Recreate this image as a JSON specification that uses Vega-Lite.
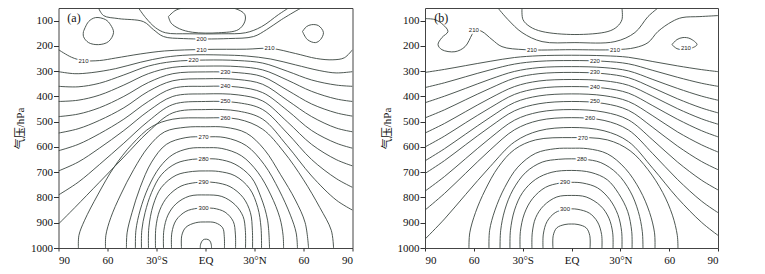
{
"$schema":"https://vega.github.io/schema/vega-lite/v6.json",
"padding":{"left":13.5,"top":7,"right":5,"bottom":5},
"spacing":26.5,
"config":{"view":{"stroke":"#444","strokeWidth":1},
"axis":{"grid":false,"domain":false,"labelOverlap":false,"labelFont":"Liberation Serif","labelFontSize":11,"labelColor":"#111","tickColor":"#333","titleFont":"Liberation Serif, Noto Sans CJK SC","titleFontSize":11,"titleFontWeight":"normal","titleColor":"#111"}},
"datasets":{
"a":[
{"c":"lp","x":-22.7,"y":84},{"c":"lp","x":-18,"y":58},{"c":"lp","x":-10,"y":47},{"c":"lp","x":5,"y":45},{"c":"lp","x":18,"y":52},{"c":"lp","x":24,"y":75},{"c":"lp","x":24,"y":105},{"c":"lp","x":20,"y":136},{"c":"lp","x":8,"y":148},{"c":"lp","x":-8,"y":146},{"c":"lp","x":-16,"y":132},{"c":"lp","x":-21,"y":110},{"c":"lp","x":-22.7,"y":84},
{"c":"B","x":-41,"y":50},{"c":"B","x":-36.7,"y":88},{"c":"B","x":-30.6,"y":128},{"c":"B","x":-24.5,"y":148},{"c":"B","x":-10,"y":152},{"c":"B","x":10,"y":152},{"c":"B","x":24.5,"y":148},{"c":"B","x":34.3,"y":124},{"c":"B","x":44.7,"y":76},{"c":"B","x":50.8,"y":50},
{"c":"C","x":-65.5,"y":50},{"c":"C","x":-62.4,"y":80},{"c":"C","x":-53.3,"y":92},{"c":"C","x":-38,"y":104},{"c":"C","x":-31.8,"y":136},{"c":"C","x":-25.7,"y":163},{"c":"C","x":-13.5,"y":171},{"c":"C","x":14,"y":171},{"c":"C","x":29.4,"y":163},{"c":"C","x":37.3,"y":136},{"c":"C","x":46.5,"y":96},{"c":"C","x":56.9,"y":56},{"c":"C","x":58.8,"y":50},
{"c":"LL","x":-74.7,"y":143},{"c":"LL","x":-71.6,"y":104},{"c":"LL","x":-67.3,"y":88},{"c":"LL","x":-61.2,"y":96},{"c":"LL","x":-58.2,"y":116},{"c":"LL","x":-56.3,"y":147},{"c":"LL","x":-59.4,"y":183},{"c":"LL","x":-65.5,"y":195},{"c":"LL","x":-71.6,"y":187},{"c":"LL","x":-74.7,"y":163},{"c":"LL","x":-74.7,"y":143},
{"c":"LR","x":59.4,"y":143},{"c":"LR","x":61.8,"y":124},{"c":"LR","x":64.9,"y":116},{"c":"LR","x":69.2,"y":120},{"c":"LR","x":72.2,"y":147},{"c":"LR","x":70.4,"y":175},{"c":"LR","x":67.3,"y":187},{"c":"LR","x":62.4,"y":175},{"c":"LR","x":59.4,"y":143},
{"c":"k0","x":-90,"y":215},{"c":"k0","x":-82,"y":245},{"c":"k0","x":-75,"y":258},{"c":"k0","x":-65,"y":258},{"c":"k0","x":-55,"y":248},{"c":"k0","x":-40,"y":232},{"c":"k0","x":-25,"y":220},{"c":"k0","x":0,"y":214},{"c":"k0","x":25,"y":213},{"c":"k0","x":40,"y":210},{"c":"k0","x":55,"y":230},{"c":"k0","x":68,"y":250},{"c":"k0","x":78,"y":255},{"c":"k0","x":85,"y":247},{"c":"k0","x":90,"y":215},
{"c":"k1","x":-90,"y":302},{"c":"k1","x":-80,"y":310},{"c":"k1","x":-70,"y":306},{"c":"k1","x":-55,"y":290},{"c":"k1","x":-40,"y":265},{"c":"k1","x":-25,"y":245},{"c":"k1","x":-10,"y":236},{"c":"k1","x":10,"y":236},{"c":"k1","x":25,"y":240},{"c":"k1","x":40,"y":252},{"c":"k1","x":55,"y":275},{"c":"k1","x":70,"y":298},{"c":"k1","x":80,"y":307},{"c":"k1","x":90,"y":302},
{"c":"k2","x":-90,"y":360},{"c":"k2","x":-78,"y":362},{"c":"k2","x":-65,"y":348},{"c":"k2","x":-50,"y":315},{"c":"k2","x":-35,"y":280},{"c":"k2","x":-20,"y":262},{"c":"k2","x":0,"y":256},{"c":"k2","x":20,"y":258},{"c":"k2","x":35,"y":268},{"c":"k2","x":50,"y":300},{"c":"k2","x":65,"y":335},{"c":"k2","x":80,"y":355},{"c":"k2","x":90,"y":360},
{"c":"k3","x":-90,"y":420},{"c":"k3","x":-78,"y":415},{"c":"k3","x":-65,"y":395},{"c":"k3","x":-50,"y":355},{"c":"k3","x":-35,"y":310},{"c":"k3","x":-20,"y":285},{"c":"k3","x":0,"y":280},{"c":"k3","x":20,"y":282},{"c":"k3","x":35,"y":295},{"c":"k3","x":50,"y":335},{"c":"k3","x":65,"y":380},{"c":"k3","x":80,"y":410},{"c":"k3","x":90,"y":420},
{"c":"k4","x":-90,"y":480},{"c":"k4","x":-78,"y":470},{"c":"k4","x":-65,"y":445},{"c":"k4","x":-50,"y":400},{"c":"k4","x":-35,"y":345},{"c":"k4","x":-20,"y":310},{"c":"k4","x":0,"y":303},{"c":"k4","x":20,"y":306},{"c":"k4","x":35,"y":322},{"c":"k4","x":50,"y":375},{"c":"k4","x":65,"y":430},{"c":"k4","x":80,"y":465},{"c":"k4","x":90,"y":478},
{"c":"k5","x":-90,"y":545},{"c":"k5","x":-78,"y":528},{"c":"k5","x":-65,"y":495},{"c":"k5","x":-50,"y":445},{"c":"k5","x":-35,"y":380},{"c":"k5","x":-20,"y":338},{"c":"k5","x":0,"y":330},{"c":"k5","x":20,"y":333},{"c":"k5","x":35,"y":352},{"c":"k5","x":50,"y":415},{"c":"k5","x":65,"y":480},{"c":"k5","x":80,"y":525},{"c":"k5","x":90,"y":540},
{"c":"k6","x":-90,"y":615},{"c":"k6","x":-78,"y":590},{"c":"k6","x":-65,"y":548},{"c":"k6","x":-50,"y":490},{"c":"k6","x":-35,"y":420},{"c":"k6","x":-20,"y":368},{"c":"k6","x":0,"y":360},{"c":"k6","x":20,"y":363},{"c":"k6","x":35,"y":385},{"c":"k6","x":50,"y":455},{"c":"k6","x":65,"y":535},{"c":"k6","x":80,"y":585},{"c":"k6","x":90,"y":605},
{"c":"k7","x":-90,"y":695},{"c":"k7","x":-78,"y":660},{"c":"k7","x":-65,"y":605},{"c":"k7","x":-50,"y":535},{"c":"k7","x":-35,"y":458},{"c":"k7","x":-20,"y":400},{"c":"k7","x":0,"y":390},{"c":"k7","x":20,"y":394},{"c":"k7","x":35,"y":418},{"c":"k7","x":50,"y":500},{"c":"k7","x":65,"y":590},{"c":"k7","x":80,"y":650},{"c":"k7","x":90,"y":675},
{"c":"k8","x":-90,"y":790},{"c":"k8","x":-78,"y":740},{"c":"k8","x":-65,"y":670},{"c":"k8","x":-50,"y":585},{"c":"k8","x":-35,"y":498},{"c":"k8","x":-20,"y":432},{"c":"k8","x":0,"y":420},{"c":"k8","x":20,"y":425},{"c":"k8","x":35,"y":452},{"c":"k8","x":50,"y":545},{"c":"k8","x":65,"y":650},{"c":"k8","x":80,"y":725},{"c":"k8","x":90,"y":760},
{"c":"k9","x":-90,"y":905},{"c":"k9","x":-80,"y":840},{"c":"k9","x":-65,"y":740},{"c":"k9","x":-50,"y":640},{"c":"k9","x":-35,"y":540},{"c":"k9","x":-20,"y":465},{"c":"k9","x":0,"y":452},{"c":"k9","x":20,"y":458},{"c":"k9","x":35,"y":490},{"c":"k9","x":50,"y":595},{"c":"k9","x":65,"y":715},{"c":"k9","x":80,"y":810},{"c":"k9","x":90,"y":850},
{"c":"j0","x":-77.8,"y":1000},{"c":"j0","x":-77.5,"y":950},{"c":"j0","x":-74,"y":890},{"c":"j0","x":-66,"y":790},{"c":"j0","x":-56,"y":680},{"c":"j0","x":-45,"y":590},{"c":"j0","x":-33,"y":520},{"c":"j0","x":-20,"y":490},{"c":"j0","x":0,"y":485},{"c":"j0","x":20,"y":490},{"c":"j0","x":35,"y":530},{"c":"j0","x":48,"y":620},{"c":"j0","x":60,"y":730},{"c":"j0","x":70,"y":840},{"c":"j0","x":77,"y":930},{"c":"j0","x":78.4,"y":1000},
{"c":"j1","x":-61.2,"y":1000},{"c":"j1","x":-61,"y":950},{"c":"j1","x":-58,"y":880},{"c":"j1","x":-52,"y":790},{"c":"j1","x":-44,"y":690},{"c":"j1","x":-35,"y":600},{"c":"j1","x":-25,"y":540},{"c":"j1","x":-12,"y":522},{"c":"j1","x":0,"y":520},{"c":"j1","x":12,"y":522},{"c":"j1","x":25,"y":545},{"c":"j1","x":36,"y":610},{"c":"j1","x":46,"y":710},{"c":"j1","x":55,"y":810},{"c":"j1","x":61,"y":900},{"c":"j1","x":63.1,"y":1000},
{"c":"j2","x":-48.4,"y":1000},{"c":"j2","x":-48,"y":940},{"c":"j2","x":-45,"y":860},{"c":"j2","x":-40,"y":760},{"c":"j2","x":-33,"y":660},{"c":"j2","x":-24,"y":590},{"c":"j2","x":-12,"y":563},{"c":"j2","x":0,"y":560},{"c":"j2","x":12,"y":563},{"c":"j2","x":25,"y":595},{"c":"j2","x":36,"y":670},{"c":"j2","x":45,"y":770},{"c":"j2","x":52,"y":870},{"c":"j2","x":55.5,"y":940},{"c":"j2","x":56.3,"y":1000},
{"c":"j3","x":-42.9,"y":1000},{"c":"j3","x":-42.6,"y":930},{"c":"j3","x":-40,"y":850},{"c":"j3","x":-35,"y":760},{"c":"j3","x":-28,"y":680},{"c":"j3","x":-20,"y":630},{"c":"j3","x":-10,"y":606},{"c":"j3","x":0,"y":603},{"c":"j3","x":10,"y":606},{"c":"j3","x":22,"y":635},{"c":"j3","x":32,"y":700},{"c":"j3","x":40,"y":790},{"c":"j3","x":45.5,"y":880},{"c":"j3","x":47.5,"y":950},{"c":"j3","x":47.8,"y":1000},
{"c":"j4","x":-39.2,"y":1000},{"c":"j4","x":-39,"y":930},{"c":"j4","x":-37,"y":860},{"c":"j4","x":-33,"y":780},{"c":"j4","x":-27,"y":710},{"c":"j4","x":-18,"y":665},{"c":"j4","x":-8,"y":649},{"c":"j4","x":0,"y":647},{"c":"j4","x":8,"y":649},{"c":"j4","x":18,"y":668},{"c":"j4","x":28,"y":720},{"c":"j4","x":34,"y":800},{"c":"j4","x":38,"y":890},{"c":"j4","x":39.2,"y":1000},
{"c":"j5","x":-34.9,"y":1000},{"c":"j5","x":-34.7,"y":920},{"c":"j5","x":-32,"y":830},{"c":"j5","x":-27,"y":760},{"c":"j5","x":-18,"y":712},{"c":"j5","x":-8,"y":697},{"c":"j5","x":0,"y":695},{"c":"j5","x":8,"y":697},{"c":"j5","x":18,"y":714},{"c":"j5","x":27,"y":765},{"c":"j5","x":32,"y":840},{"c":"j5","x":34,"y":920},{"c":"j5","x":34.3,"y":1000},
{"c":"j6","x":-30.6,"y":1000},{"c":"j6","x":-30.4,"y":920},{"c":"j6","x":-28,"y":850},{"c":"j6","x":-23,"y":795},{"c":"j6","x":-15,"y":755},{"c":"j6","x":-6,"y":741},{"c":"j6","x":0,"y":739},{"c":"j6","x":6,"y":741},{"c":"j6","x":15,"y":757},{"c":"j6","x":23,"y":800},{"c":"j6","x":27.5,"y":860},{"c":"j6","x":28.7,"y":930},{"c":"j6","x":28.8,"y":1000},
{"c":"j7","x":-25.7,"y":1000},{"c":"j7","x":-25.5,"y":930},{"c":"j7","x":-23,"y":870},{"c":"j7","x":-18,"y":825},{"c":"j7","x":-10,"y":795},{"c":"j7","x":0,"y":790},{"c":"j7","x":10,"y":796},{"c":"j7","x":18,"y":828},{"c":"j7","x":23,"y":875},{"c":"j7","x":24.4,"y":930},{"c":"j7","x":24.5,"y":1000},
{"c":"j8","x":-20.8,"y":1000},{"c":"j8","x":-20.6,"y":940},{"c":"j8","x":-18,"y":890},{"c":"j8","x":-12,"y":855},{"c":"j8","x":-5,"y":843},{"c":"j8","x":0,"y":842},{"c":"j8","x":5,"y":843},{"c":"j8","x":12,"y":858},{"c":"j8","x":17,"y":895},{"c":"j8","x":18.3,"y":945},{"c":"j8","x":18.4,"y":1000},
{"c":"j9","x":-14.7,"y":1000},{"c":"j9","x":-14.5,"y":950},{"c":"j9","x":-12,"y":918},{"c":"j9","x":-6,"y":900},{"c":"j9","x":0,"y":897},{"c":"j9","x":6,"y":900},{"c":"j9","x":10.5,"y":920},{"c":"j9","x":11.5,"y":955},{"c":"j9","x":11.6,"y":1000},
{"c":"bl","x":-3.2,"y":1000},{"c":"bl","x":-3,"y":985},{"c":"bl","x":-1.5,"y":968},{"c":"bl","x":0.5,"y":965},{"c":"bl","x":2.5,"y":970},{"c":"bl","x":3.5,"y":985},{"c":"bl","x":3.7,"y":1000}
],
"la":[
{"x":-2.4,"y":171,"t":"200"},{"x":-2.4,"y":215,"t":"210"},{"x":39.2,"y":209,"t":"210"},{"x":-74.7,"y":258,"t":"210"},{"x":-7.3,"y":256,"t":"220"},{"x":12.2,"y":303,"t":"230"},{"x":12.2,"y":360,"t":"240"},{"x":12.2,"y":420,"t":"250"},{"x":12.2,"y":485,"t":"260"},{"x":-1.2,"y":560,"t":"270"},{"x":-1.2,"y":647,"t":"280"},{"x":-1.2,"y":739,"t":"290"},{"x":-1.2,"y":842,"t":"300"}
],
"b":[
{"c":"U1","x":-30.4,"y":50},{"c":"U1","x":-29.8,"y":96},{"c":"U1","x":-25.5,"y":124},{"c":"U1","x":-18.1,"y":143},{"c":"U1","x":2.1,"y":155},{"c":"U1","x":22.4,"y":143},{"c":"U1","x":28,"y":124},{"c":"U1","x":31,"y":96},{"c":"U1","x":31,"y":50},
{"c":"U2","x":-45.2,"y":50},{"c":"U2","x":-39,"y":96},{"c":"U2","x":-30.4,"y":147},{"c":"U2","x":-18.1,"y":183},{"c":"U2","x":2.1,"y":187},{"c":"U2","x":26.7,"y":183},{"c":"U2","x":39,"y":147},{"c":"U2","x":47,"y":84},{"c":"U2","x":53.1,"y":50},
{"c":"k0","x":-90,"y":92},{"c":"k0","x":-83.9,"y":96},{"c":"k0","x":-78.9,"y":116},{"c":"k0","x":-75.9,"y":143},{"c":"k0","x":-79.6,"y":167},{"c":"k0","x":-82,"y":195},{"c":"k0","x":-79.6,"y":215},{"c":"k0","x":-71.6,"y":223},{"c":"k0","x":-65.4,"y":203},{"c":"k0","x":-61.1,"y":155},{"c":"k0","x":-59.3,"y":136},{"c":"k0","x":-55,"y":143},{"c":"k0","x":-48.8,"y":175},{"c":"k0","x":-42.7,"y":203},{"c":"k0","x":-28.6,"y":215},{"c":"k0","x":0,"y":215},{"c":"k0","x":26.7,"y":215},{"c":"k0","x":39,"y":207},{"c":"k0","x":47,"y":187},{"c":"k0","x":53.1,"y":143},{"c":"k0","x":61.7,"y":104},{"c":"k0","x":67.9,"y":88},{"c":"k0","x":78.9,"y":84},{"c":"k0","x":90,"y":80},
{"c":"LR","x":61.7,"y":195},{"c":"LR","x":64.8,"y":175},{"c":"LR","x":68.5,"y":167},{"c":"LR","x":72.8,"y":171},{"c":"LR","x":77.1,"y":195},{"c":"LR","x":72.8,"y":211},{"c":"LR","x":68.5,"y":215},{"c":"LR","x":64.8,"y":211},{"c":"LR","x":61.7,"y":195},
{"c":"k1","x":-90,"y":305},{"c":"k1","x":-78,"y":293},{"c":"k1","x":-65,"y":278},{"c":"k1","x":-50,"y":261},{"c":"k1","x":-35,"y":246},{"c":"k1","x":-20,"y":239},{"c":"k1","x":0,"y":237},{"c":"k1","x":20,"y":239},{"c":"k1","x":35,"y":245},{"c":"k1","x":50,"y":262},{"c":"k1","x":65,"y":279},{"c":"k1","x":80,"y":294},{"c":"k1","x":90,"y":302},
{"c":"k2","x":-90,"y":365},{"c":"k2","x":-78,"y":346},{"c":"k2","x":-65,"y":322},{"c":"k2","x":-50,"y":295},{"c":"k2","x":-35,"y":272},{"c":"k2","x":-20,"y":261},{"c":"k2","x":0,"y":258},{"c":"k2","x":20,"y":261},{"c":"k2","x":35,"y":271},{"c":"k2","x":50,"y":297},{"c":"k2","x":65,"y":324},{"c":"k2","x":80,"y":348},{"c":"k2","x":90,"y":360},
{"c":"k3","x":-90,"y":425},{"c":"k3","x":-78,"y":399},{"c":"k3","x":-65,"y":368},{"c":"k3","x":-50,"y":332},{"c":"k3","x":-35,"y":301},{"c":"k3","x":-20,"y":286},{"c":"k3","x":0,"y":282},{"c":"k3","x":20,"y":286},{"c":"k3","x":35,"y":299},{"c":"k3","x":50,"y":333},{"c":"k3","x":65,"y":368},{"c":"k3","x":80,"y":399},{"c":"k3","x":90,"y":415},
{"c":"k4","x":-90,"y":485},{"c":"k4","x":-78,"y":453},{"c":"k4","x":-65,"y":413},{"c":"k4","x":-50,"y":368},{"c":"k4","x":-35,"y":328},{"c":"k4","x":-20,"y":310},{"c":"k4","x":0,"y":305},{"c":"k4","x":20,"y":310},{"c":"k4","x":35,"y":326},{"c":"k4","x":50,"y":366},{"c":"k4","x":65,"y":409},{"c":"k4","x":80,"y":446},{"c":"k4","x":90,"y":465},
{"c":"k5","x":-90,"y":545},{"c":"k5","x":-78,"y":507},{"c":"k5","x":-65,"y":460},{"c":"k5","x":-50,"y":407},{"c":"k5","x":-35,"y":361},{"c":"k5","x":-20,"y":339},{"c":"k5","x":0,"y":333},{"c":"k5","x":20,"y":338},{"c":"k5","x":35,"y":356},{"c":"k5","x":50,"y":400},{"c":"k5","x":65,"y":448},{"c":"k5","x":80,"y":489},{"c":"k5","x":90,"y":510},
{"c":"k6","x":-90,"y":600},{"c":"k6","x":-78,"y":557},{"c":"k6","x":-65,"y":504},{"c":"k6","x":-50,"y":445},{"c":"k6","x":-35,"y":392},{"c":"k6","x":-20,"y":368},{"c":"k6","x":0,"y":361},{"c":"k6","x":20,"y":367},{"c":"k6","x":35,"y":387},{"c":"k6","x":50,"y":437},{"c":"k6","x":65,"y":490},{"c":"k6","x":80,"y":536},{"c":"k6","x":90,"y":560},
{"c":"k7","x":-90,"y":655},{"c":"k7","x":-78,"y":607},{"c":"k7","x":-65,"y":549},{"c":"k7","x":-50,"y":483},{"c":"k7","x":-35,"y":424},{"c":"k7","x":-20,"y":398},{"c":"k7","x":0,"y":390},{"c":"k7","x":20,"y":397},{"c":"k7","x":35,"y":420},{"c":"k7","x":50,"y":477},{"c":"k7","x":65,"y":540},{"c":"k7","x":80,"y":592},{"c":"k7","x":90,"y":620},
{"c":"k8","x":-90,"y":705},{"c":"k8","x":-78,"y":654},{"c":"k8","x":-65,"y":591},{"c":"k8","x":-50,"y":520},{"c":"k8","x":-35,"y":457},{"c":"k8","x":-20,"y":429},{"c":"k8","x":0,"y":420},{"c":"k8","x":20,"y":428},{"c":"k8","x":35,"y":455},{"c":"k8","x":50,"y":523},{"c":"k8","x":65,"y":596},{"c":"k8","x":80,"y":658},{"c":"k8","x":90,"y":690},
{"c":"k9","x":-90,"y":775},{"c":"k9","x":-78,"y":717},{"c":"k9","x":-65,"y":646},{"c":"k9","x":-50,"y":565},{"c":"k9","x":-35,"y":494},{"c":"k9","x":-20,"y":462},{"c":"k9","x":0,"y":452},{"c":"k9","x":20,"y":462},{"c":"k9","x":35,"y":493},{"c":"k9","x":50,"y":573},{"c":"k9","x":65,"y":659},{"c":"k9","x":80,"y":732},{"c":"k9","x":90,"y":770},
{"c":"k10","x":-90,"y":850},{"c":"k10","x":-78,"y":784},{"c":"k10","x":-65,"y":704},{"c":"k10","x":-50,"y":612},{"c":"k10","x":-35,"y":532},{"c":"k10","x":-20,"y":495},{"c":"k10","x":0,"y":484},{"c":"k10","x":20,"y":495},{"c":"k10","x":35,"y":533},{"c":"k10","x":50,"y":627},{"c":"k10","x":65,"y":728},{"c":"k10","x":80,"y":815},{"c":"k10","x":90,"y":860},
{"c":"k11","x":-90,"y":965},{"c":"k11","x":-78,"y":885},{"c":"k11","x":-65,"y":788},{"c":"k11","x":-50,"y":678},{"c":"k11","x":-35,"y":580},{"c":"k11","x":-20,"y":536},{"c":"k11","x":0,"y":523},{"c":"k11","x":20,"y":536},{"c":"k11","x":35,"y":579},{"c":"k11","x":50,"y":685},{"c":"k11","x":65,"y":801},{"c":"k11","x":80,"y":899},{"c":"k11","x":90,"y":950},
{"c":"j0","x":-63,"y":1000},{"c":"j0","x":-62.5,"y":940},{"c":"j0","x":-59,"y":860},{"c":"j0","x":-53,"y":770},{"c":"j0","x":-45,"y":680},{"c":"j0","x":-35,"y":610},{"c":"j0","x":-22,"y":572},{"c":"j0","x":0,"y":563},{"c":"j0","x":22,"y":572},{"c":"j0","x":36,"y":615},{"c":"j0","x":47,"y":690},{"c":"j0","x":56,"y":780},{"c":"j0","x":62,"y":870},{"c":"j0","x":65,"y":950},{"c":"j0","x":65.4,"y":1000},
{"c":"j1","x":-50.7,"y":1000},{"c":"j1","x":-50.3,"y":930},{"c":"j1","x":-47,"y":850},{"c":"j1","x":-41,"y":760},{"c":"j1","x":-33,"y":680},{"c":"j1","x":-22,"y":625},{"c":"j1","x":-10,"y":607},{"c":"j1","x":0,"y":605},{"c":"j1","x":10,"y":607},{"c":"j1","x":22,"y":627},{"c":"j1","x":33,"y":685},{"c":"j1","x":42,"y":770},{"c":"j1","x":48,"y":860},{"c":"j1","x":51,"y":940},{"c":"j1","x":51.3,"y":1000},
{"c":"j2","x":-43.9,"y":1000},{"c":"j2","x":-43.5,"y":930},{"c":"j2","x":-41,"y":850},{"c":"j2","x":-36,"y":770},{"c":"j2","x":-28,"y":700},{"c":"j2","x":-18,"y":660},{"c":"j2","x":-8,"y":649},{"c":"j2","x":0,"y":647},{"c":"j2","x":8,"y":649},{"c":"j2","x":18,"y":662},{"c":"j2","x":28,"y":705},{"c":"j2","x":36,"y":775},{"c":"j2","x":41,"y":855},{"c":"j2","x":43.5,"y":935},{"c":"j2","x":43.9,"y":1000},
{"c":"j3","x":-37.8,"y":1000},{"c":"j3","x":-37.5,"y":930},{"c":"j3","x":-35,"y":850},{"c":"j3","x":-30,"y":780},{"c":"j3","x":-22,"y":728},{"c":"j3","x":-12,"y":700},{"c":"j3","x":0,"y":693},{"c":"j3","x":12,"y":701},{"c":"j3","x":22,"y":730},{"c":"j3","x":29,"y":785},{"c":"j3","x":34.5,"y":855},{"c":"j3","x":37,"y":935},{"c":"j3","x":37.2,"y":1000},
{"c":"j4","x":-31.6,"y":1000},{"c":"j4","x":-31.4,"y":935},{"c":"j4","x":-29,"y":865},{"c":"j4","x":-24,"y":805},{"c":"j4","x":-16,"y":760},{"c":"j4","x":-7,"y":743},{"c":"j4","x":0,"y":740},{"c":"j4","x":7,"y":743},{"c":"j4","x":16,"y":762},{"c":"j4","x":23.5,"y":808},{"c":"j4","x":28.5,"y":868},{"c":"j4","x":30.8,"y":935},{"c":"j4","x":31,"y":1000},
{"c":"j5","x":-24.3,"y":1000},{"c":"j5","x":-24.1,"y":940},{"c":"j5","x":-22,"y":880},{"c":"j5","x":-17,"y":832},{"c":"j5","x":-9,"y":798},{"c":"j5","x":0,"y":792},{"c":"j5","x":9,"y":798},{"c":"j5","x":18,"y":834},{"c":"j5","x":23,"y":882},{"c":"j5","x":25.3,"y":940},{"c":"j5","x":25.5,"y":1000},
{"c":"j6","x":-17.5,"y":1000},{"c":"j6","x":-17.3,"y":945},{"c":"j6","x":-15,"y":895},{"c":"j6","x":-10,"y":860},{"c":"j6","x":-4,"y":847},{"c":"j6","x":0,"y":845},{"c":"j6","x":4,"y":847},{"c":"j6","x":11,"y":862},{"c":"j6","x":16,"y":897},{"c":"j6","x":18.5,"y":947},{"c":"j6","x":18.7,"y":1000},
{"c":"j7","x":-11.4,"y":1000},{"c":"j7","x":-11.2,"y":950},{"c":"j7","x":-9,"y":920},{"c":"j7","x":-4,"y":907},{"c":"j7","x":0,"y":905},{"c":"j7","x":4,"y":907},{"c":"j7","x":9,"y":920},{"c":"j7","x":11.2,"y":950},{"c":"j7","x":11.4,"y":1000}
],
"lb":[
{"x":-60,"y":138,"t":"210"},{"x":-24.3,"y":215,"t":"210"},{"x":26.7,"y":215,"t":"210"},{"x":70.3,"y":207,"t":"210"},{"x":14.4,"y":258,"t":"220"},{"x":14.4,"y":305,"t":"230"},{"x":14.4,"y":361,"t":"240"},{"x":14.4,"y":420,"t":"250"},{"x":11.4,"y":484,"t":"260"},{"x":7,"y":563,"t":"270"},{"x":6.4,"y":647,"t":"280"},{"x":-4,"y":740,"t":"290"},{"x":-4,"y":845,"t":"300"}
]
},
"hconcat":[
{"width":294,"height":240,"layer":[
{"data":{"name":"a"},"mark":{"type":"line","interpolate":"catmull-rom","stroke":"#3a4540","strokeWidth":0.9,"clip":true},
"encoding":{"x":{"field":"x","type":"quantitative","scale":{"domain":[-90,90],"nice":false,"zero":false},"axis":{"values":[-90,-60,-30,0,30,60,90],"labelExpr":"datum.value==0?'EQ':datum.value==-30?'30°S':datum.value==30?'30°N':abs(datum.value)","title":null,"tickSize":3,"labelPadding":3,"labelOverlap":false}},
"y":{"field":"y","type":"quantitative","scale":{"domain":[50,1000],"reverse":true,"nice":false,"zero":false},"axis":{"tickCount":10,"format":"d","labelBound":false,"labelFlush":false,"title":"气压/hPa","tickSize":5,"labelPadding":1,"titlePadding":5,"labelOverlap":false}},
"detail":{"field":"c"},"order":{"value":null}}},
{"data":{"name":"la"},"mark":{"type":"text","fontSize":6,"font":"Liberation Sans","stroke":"white","strokeWidth":3,"fill":"white"},"encoding":{"x":{"field":"x","type":"quantitative"},"y":{"field":"y","type":"quantitative"},"text":{"field":"t"}}},
{"data":{"name":"la"},"mark":{"type":"text","fontSize":6,"font":"Liberation Sans","fill":"#222"},"encoding":{"x":{"field":"x","type":"quantitative"},"y":{"field":"y","type":"quantitative"},"text":{"field":"t"}}},
{"data":{"values":[{"x":-80.5,"y":88,"t":"(a)"}]},"mark":{"type":"text","fontSize":12,"font":"Liberation Serif","fill":"#111"},"encoding":{"x":{"field":"x","type":"quantitative"},"y":{"field":"y","type":"quantitative"},"text":{"field":"t"}}}
]},
{"width":293,"height":240,"layer":[
{"data":{"name":"b"},"mark":{"type":"line","interpolate":"catmull-rom","stroke":"#3a4540","strokeWidth":0.9,"clip":true},
"encoding":{"x":{"field":"x","type":"quantitative","scale":{"domain":[-90,90],"nice":false,"zero":false},"axis":{"values":[-90,-60,-30,0,30,60,90],"labelExpr":"datum.value==0?'EQ':datum.value==-30?'30°S':datum.value==30?'30°N':abs(datum.value)","title":null,"tickSize":3,"labelPadding":3,"labelOverlap":false}},
"y":{"field":"y","type":"quantitative","scale":{"domain":[50,1000],"reverse":true,"nice":false,"zero":false},"axis":{"tickCount":10,"format":"d","labelBound":false,"labelFlush":false,"title":"气压/hPa","tickSize":5,"labelPadding":1,"titlePadding":5,"labelOverlap":false}},
"detail":{"field":"c"},"order":{"value":null}}},
{"data":{"name":"lb"},"mark":{"type":"text","fontSize":6,"font":"Liberation Sans","stroke":"white","strokeWidth":3,"fill":"white"},"encoding":{"x":{"field":"x","type":"quantitative"},"y":{"field":"y","type":"quantitative"},"text":{"field":"t"}}},
{"data":{"name":"lb"},"mark":{"type":"text","fontSize":6,"font":"Liberation Sans","fill":"#222"},"encoding":{"x":{"field":"x","type":"quantitative"},"y":{"field":"y","type":"quantitative"},"text":{"field":"t"}}},
{"data":{"values":[{"x":-80,"y":88,"t":"(b)"}]},"mark":{"type":"text","fontSize":12,"font":"Liberation Serif","fill":"#111"},"encoding":{"x":{"field":"x","type":"quantitative"},"y":{"field":"y","type":"quantitative"},"text":{"field":"t"}}}
]}
]
}
